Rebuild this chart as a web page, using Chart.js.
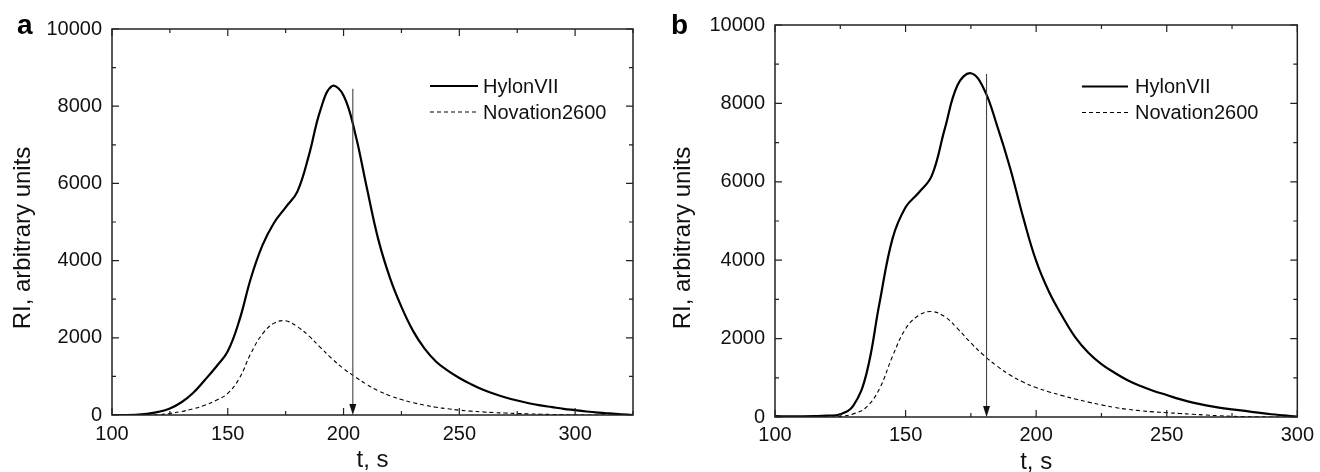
<!DOCTYPE html>
<html>
<head>
<meta charset="utf-8">
<script src="https://cdn.jsdelivr.net/npm/chart.js@4.4.1/dist/chart.umd.min.js"></script>
<style>
  body { margin: 0; background: #fff; }
  .panel { position: absolute; top: 0; }
</style>
</head>
<body>
<canvas id="chartA" class="panel" style="left:0" width="660" height="472"></canvas>
<canvas id="chartB" class="panel" style="left:660px" width="660" height="472"></canvas>
<script>
// panel a
const timeA = [100, 105, 110, 115, 120, 125, 130, 135, 140, 145, 150, 155, 160, 165, 170, 175, 180, 185, 190, 195,
  200, 205, 210, 215, 220, 225, 230, 235, 240, 245, 250, 255, 260, 265, 270, 275, 280, 285, 290, 295,
  300, 305, 310, 315, 320, 325];
const hylonA = [0, 0, 5, 30, 80, 170, 330, 570, 900, 1250, 1650, 2450, 3550, 4400, 4980, 5380, 5780, 6720, 7900, 8520,
  8280, 7300, 5900, 4550, 3560, 2800, 2180, 1720, 1380, 1150, 960, 800, 660, 550, 455, 375, 305, 250, 205, 160,
  125, 90, 62, 40, 20, 0];
const novationA = [0, 0, 0, 0, 5, 40, 90, 160, 250, 380, 560, 950, 1600, 2100, 2380, 2440, 2290, 2050, 1750, 1460,
  1200, 990, 790, 630, 500, 400, 320, 255, 200, 160, 125, 100, 80, 62, 50, 40, 30, 20, 15, 10,
  5, 0, 0, 0, 0, 0];
const arrowA = [204, 8450];

// panel b
const timeB = [100, 105, 110, 115, 120, 125, 130, 135, 140, 145, 150, 155, 160, 165, 170, 175, 180, 185, 190, 195,
  200, 205, 210, 215, 220, 225, 230, 235, 240, 245, 250, 255, 260, 265, 270, 275, 280, 285, 290, 295, 300];
const hylonB = [20, 15, 15, 20, 35, 70, 290, 1100, 2900, 4550, 5350, 5720, 6150, 7350, 8480, 8770, 8370, 7440, 6360, 5100,
  3980, 3180, 2570, 2030, 1640, 1350, 1130, 940, 790, 665, 560, 455, 365, 295, 240, 195, 155, 110, 70, 40, 10];
const novationB = [0, 0, 0, 0, 0, 15, 80, 250, 720, 1550, 2250, 2590, 2690, 2560, 2250, 1890, 1570, 1300, 1070, 890,
  750, 640, 545, 460, 380, 310, 245, 195, 160, 130, 110, 90, 70, 50, 32, 18, 10, 5, 0, 0, 0];
const arrowB = [181, 8750];

const seriesNames = ["HylonVII", "Novation2600"];
const FONT = "'Liberation Sans', Arial, sans-serif";

const toPoints = (ts, vs) => ts.map((t, i) => ({ x: t, y: vs[i] }));

// frame with inward ticks, arrow, legend, letters
const decor = {
  id: "decor",
  afterDatasetsDraw(chart, args, o) {
    const { ctx, chartArea: a, scales: { x, y } } = chart;
    ctx.save();
    ctx.strokeStyle = "#222";
    ctx.lineWidth = 1.5;
    ctx.strokeRect(a.left, a.top, a.width, a.height);
    ctx.lineWidth = 1.2;
    ctx.beginPath();
    x.ticks.forEach((t) => {
      const px = x.getPixelForValue(t.value);
      const len = t.value % 50 === 0 ? 7 : 4;
      ctx.moveTo(px, a.bottom); ctx.lineTo(px, a.bottom - len);
      ctx.moveTo(px, a.top); ctx.lineTo(px, a.top + len);
    });
    y.ticks.forEach((t) => {
      const py = y.getPixelForValue(t.value);
      const len = t.value % 2000 === 0 ? 7 : 4;
      ctx.moveTo(a.left, py); ctx.lineTo(a.left + len, py);
      ctx.moveTo(a.right, py); ctx.lineTo(a.right - len, py);
    });
    ctx.stroke();

    // arrow
    const ax = x.getPixelForValue(o.arrow[0]);
    const ay = y.getPixelForValue(o.arrow[1]);
    const ab = y.getPixelForValue(0);
    ctx.strokeStyle = "#444";
    ctx.lineWidth = 1.1;
    ctx.beginPath();
    ctx.moveTo(ax, ay); ctx.lineTo(ax, ab - 8);
    ctx.stroke();
    ctx.fillStyle = "#111";
    ctx.beginPath();
    ctx.moveTo(ax - 3.5, ab - 11); ctx.lineTo(ax + 3.5, ab - 11); ctx.lineTo(ax, ab);
    ctx.closePath();
    ctx.fill();

    // legend
    ctx.font = "20px " + FONT;
    ctx.textBaseline = "middle";
    ctx.textAlign = "left";
    chart.data.datasets.forEach((ds, i) => {
      const ly = o.legend.y + i * o.legend.dy;
      ctx.strokeStyle = "#000";
      ctx.lineWidth = ds.borderWidth;
      ctx.setLineDash(ds.borderDash || []);
      ctx.beginPath();
      ctx.moveTo(o.legend.x0, ly); ctx.lineTo(o.legend.x1, ly);
      ctx.stroke();
      ctx.setLineDash([]);
      ctx.fillStyle = "#111";
      ctx.fillText(ds.label, o.legend.tx, ly + 1);
    });

    // y title
    ctx.save();
    ctx.font = "24px " + FONT;
    ctx.textAlign = "center";
    ctx.translate(o.yTitle[0], o.yTitle[1]);
    ctx.rotate(-Math.PI / 2);
    ctx.fillText("RI, arbitrary units", 0, 0);
    ctx.restore();

    // panel letter
    ctx.font = "bold 28px " + FONT;
    ctx.textBaseline = "alphabetic";
    ctx.fillStyle = "#000";
    ctx.fillText(o.letter, o.letterPos[0], o.letterPos[1]);
    ctx.restore();
  },
};

function makeChart(id, t, hylon, novation, p) {
  return new Chart(document.getElementById(id), {
    type: "line",
    data: {
      datasets: [
        {
          label: seriesNames[0],
          data: toPoints(t, hylon),
          borderColor: "#000",
          borderWidth: 2.2,
          pointRadius: 0,
          tension: 0.4,
        },
        {
          label: seriesNames[1],
          data: toPoints(t, novation),
          borderColor: "#000",
          borderWidth: 1.1,
          borderDash: [4, 3],
          pointRadius: 0,
          tension: 0.4,
        },
      ],
    },
    options: {
      responsive: false,
      animation: false,
      layout: { padding: { left: 0, top: p.top, right: p.right, bottom: 0 } },
      plugins: {
        legend: { display: false },
        tooltip: { enabled: false },
        decor: p.decor,
      },
      scales: {
        x: {
          type: "linear",
          min: 100,
          max: p.xMax,
          grid: { display: false, drawTicks: false },
          border: { display: false },
          ticks: {
            stepSize: 25,
            autoSkip: false,
            maxRotation: 0,
            padding: p.xPad,
            color: "#111",
            font: { family: FONT, size: 20 },
            callback: (v) => (v % 50 === 0 ? v : ""),
          },
          title: {
            display: true,
            text: "t, s",
            color: "#111",
            font: { family: FONT, size: 24, lineHeight: 1 },
            padding: { top: 0, bottom: p.titlePad },
          },
          afterFit: (s) => { s.height = 472 - p.bottom; },
        },
        y: {
          min: 0,
          max: 10000,
          grid: { display: false, drawTicks: false },
          border: { display: false },
          ticks: {
            stepSize: 1000,
            autoSkip: false,
            padding: 10,
            color: "#111",
            font: { family: FONT, size: 20 },
            callback: (v) => (v % 2000 === 0 ? v : ""),
          },
          afterFit: (s) => { s.width = p.left; },
        },
      },
    },
    plugins: [decor],
  });
}

makeChart("chartA", timeA, hylonA, novationA, {
  left: 112, top: 29, right: 27, bottom: 415, xMax: 325, xPad: 7, titlePad: -0.5,
  decor: {
    arrow: arrowA,
    legend: { x0: 430, x1: 478, tx: 483, y: 86, dy: 26 },
    yTitle: [23, 238],
    letter: "a",
    letterPos: [17, 34],
  },
});

makeChart("chartB", timeB, hylonB, novationB, {
  left: 115, top: 25, right: 18, bottom: 417, xMax: 300, xPad: 6, titlePad: -2,
  decor: {
    arrow: arrowB,
    legend: { x0: 422, x1: 468, tx: 475, y: 86.5, dy: 26 },
    yTitle: [23, 238],
    letter: "b",
    letterPos: [11, 34],
  },
});
</script>
</body>
</html>
